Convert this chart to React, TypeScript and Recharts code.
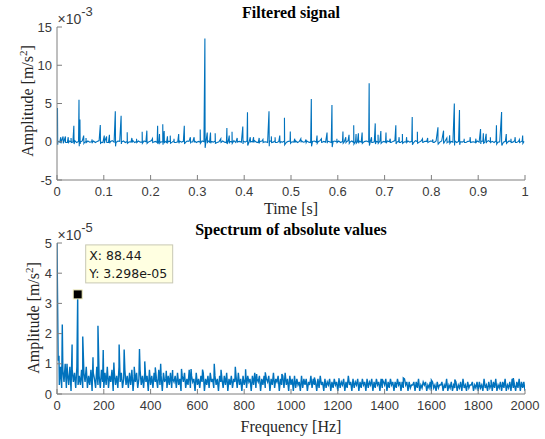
import React from 'react';
import { LineChart, Line, XAxis, YAxis, ReferenceDot } from 'recharts';

// ---------- Top plot: filtered signal (amplitude in 1e-3 m/s^2) ----------
const timeTicks = [0, 0.1, 0.2, 0.3, 0.4, 0.5, 0.6, 0.7, 0.8, 0.9, 1];
const timeTickLabels = ['0', '0.1', '0.2', '0.3', '0.4', '0.5', '0.6', '0.7', '0.8', '0.9', '1'];
const signalTicks = [-5, 0, 5, 10, 15];
const signalTickLabels = ['-5', '0', '5', '10', '15'];

// background noise of the filtered signal, samples every 4 ms starting at 2 ms (units 5e-5 m/s^2)
const baselineStart = 0.002;
const baselineStep = 0.004;
const baselineAmp = [
  2, -1, 3, -2, 1, -2, 2, 0, -1, 3, -2, 1, -1, 2, -3, 1, 2, -1, 0, 2, -2, 1, 3, -1, -2,
  1, 2, -2, 0, 3, -1, -2, 2, 1, -1, 2, -2, 1, 0, -1, 3, -2, 1, 2, -1, -1, 2, 0, -2, 1,
  3, -1, 1, -2, 2, 0, -1, 2, -2, 1, 1, -1, 3, -2, 0, 2, -1, 1, -2, 2, 1, -1, 0, 2, -2,
  1, -1, 2, 0, -2, 3, -1, 1, -1, 2, -2, 0, 1, 2, -1, -2, 2, 1, -1, 3, -2, 0, 1, -1, 2,
  -1, 2, -2, 1, 0, 3, -1, -2, 1, 2, -1, 0, -2, 2, 1, -1, 3, -2, 1, 0, -1, 2, -2, 1, 2,
  0, -1, 2, -2, 1, 3, -1, 0, 2, -1, -2, 1, 2, -1, 0, 3, -2, 1, -1, 2, 0, -2, 1, 2, -1,
  2, -2, 1, 0, -1, 3, -1, 2, -2, 1, 0, 2, -1, -2, 1, 2, -1, 3, -2, 0, 1, -1, 2, -2, 1,
  -1, 2, 0, -2, 1, 3, -1, 1, -2, 2, 0, -1, 2, -1, 1, -2, 3, 0, -1, 2, -2, 1, 1, -1, 2,
  1, -2, 2, 0, -1, 2, -2, 3, -1, 0, 1, -1, 2, -2, 1, 0, -1, 3, -2, 1, 2, -1, 0, -2, 2,
  -1, 1, 2, -2, 0, 3, -1, 1, -2, 2, -1, 0, 2, -1, 1, -2, 2, 0, -1, 3, -2, 1, -1, 2, 1,
];

// impulses: time [s], peak and following dip (units 1e-3 m/s^2)
const spikeTimes = [
  0.001, 0.008, 0.013, 0.018, 0.024, 0.030, 0.036, 0.047, 0.049, 0.057, 0.062, 0.075,
  0.0925, 0.101, 0.106, 0.112, 0.1246, 0.137, 0.150, 0.160, 0.170, 0.182, 0.192, 0.204,
  0.215, 0.219, 0.226, 0.229, 0.236, 0.242, 0.250, 0.260, 0.272, 0.285, 0.293, 0.306,
  0.316, 0.321, 0.328, 0.338, 0.350, 0.363, 0.368, 0.374, 0.385, 0.397, 0.407, 0.413,
  0.420, 0.432, 0.440, 0.453, 0.458, 0.466, 0.476, 0.486, 0.4985, 0.508, 0.521, 0.532,
  0.5434, 0.5556, 0.565, 0.577, 0.5875, 0.598, 0.611, 0.617, 0.624, 0.634, 0.639, 0.644,
  0.652, 0.667, 0.672, 0.680, 0.686, 0.692, 0.703, 0.712, 0.724, 0.731, 0.738, 0.747,
  0.759, 0.770, 0.781, 0.792, 0.803, 0.814, 0.826, 0.833, 0.839, 0.849, 0.860, 0.870,
  0.883, 0.895, 0.905, 0.911, 0.917, 0.926, 0.939, 0.950, 0.960, 0.970, 0.979, 0.988, 0.995,
];
const spikePeaks = [
  4.4, 0.6, 0.7, 0.7, 0.6, 0.5, 2.1, 5.5, 2.9, 0.8, 0.5, 0.3,
  2.2, 0.8, 0.7, 0.9, 4.0, 3.4, 1.25, 0.5, 0.4, 1.3, 1.45, 0.4,
  2.1, 1.0, 2.3, 1.4, 0.7, 0.8, 0.4, 1.0, 2.1, 0.6, 0.6, 1.6,
  13.5, 1.2, 1.2, 1.1, 0.4, 1.8, 0.8, 1.3, 0.5, 2.0, 3.85, 0.6,
  0.6, 0.5, 0.3, 4.0, 0.7, 0.6, 0.8, 3.15, 1.35, 0.4, 0.4, 0.3,
  5.6, 0.8, 0.4, 1.2, 4.8, 0.4, 1.35, 0.6, 0.9, 2.15, 1.0, 1.1,
  1.2, 7.65, 0.6, 2.4, 0.9, 1.4, 1.2, 0.4, 2.15, 0.6, 1.0, 0.6,
  3.25, 1.3, 0.4, 0.5, 0.3, 1.9, 1.45, 0.5, 0.85, 5.0, 4.15, 0.4,
  0.6, 0.4, 1.65, 1.1, 1.05, 0.6, 2.15, 3.9, 1.0, 0.4, 0.6, 0.3, 0.8,
];
const spikeDips = [
  -0.4, -0.2, -0.2, -0.1, -0.2, -0.1, -0.3, -0.6, -0.3, -0.2, -0.1, -0.1,
  -0.3, -0.2, -0.1, -0.2, -0.6, -0.3, -0.2, -0.1, -0.1, -0.2, -0.2, -0.1,
  -0.3, -0.2, -0.4, -0.2, -0.1, -0.2, -0.1, -0.2, -0.3, -0.1, -0.1, -0.2,
  -0.8, -0.2, -0.2, -0.2, -0.1, -0.3, -0.1, -0.2, -0.1, -0.3, -0.5, -0.1,
  -0.1, -0.1, -0.1, -0.6, -0.1, -0.1, -0.2, -0.4, -0.2, -0.1, -0.1, -0.1,
  -0.6, -0.2, -0.1, -0.2, -0.7, -0.1, -0.2, -0.1, -0.2, -0.3, -0.2, -0.2,
  -0.2, -0.5, -0.1, -0.3, -0.2, -0.2, -0.2, -0.1, -0.3, -0.1, -0.2, -0.1,
  -0.4, -0.2, -0.1, -0.1, -0.1, -0.3, -0.2, -0.1, -0.2, -0.5, -0.4, -0.1,
  -0.1, -0.1, -0.3, -0.2, -0.2, -0.1, -0.3, -0.5, -0.2, -0.1, -0.1, -0.1, -0.2,
];

// ---------- Bottom plot: spectrum (amplitude in 1e-6 m/s^2) ----------
const freqTicks = [0, 200, 400, 600, 800, 1000, 1200, 1400, 1600, 1800, 2000];
const freqTickLabels = ['0', '200', '400', '600', '800', '1000', '1200', '1400', '1600', '1800', '2000'];
const specTicks = [0, 1, 2, 3, 4, 5];
const specTickLabels = ['0', '1', '2', '3', '4', '5'];

const binStep = 5; // Hz
const spectrumBins = [
  50, 11, 3, 9, 2, 8, 4, 10, 2, 7, 3, 9, 1, 8, 4, 7, 2, 9, 3, 6,
  3, 8, 2, 7, 4, 9, 2, 6, 3, 8, 1, 7, 5, 2, 9, 3, 6, 2, 8, 4,
  2, 7, 3, 9, 2, 6, 4, 8, 1, 7, 3, 6, 2, 9, 4, 7, 2, 5, 8, 3,
  6, 2, 7, 3, 8, 1, 6, 4, 7, 2, 5, 8, 3, 6, 2, 7, 4, 6, 1, 8,
  3, 6, 2, 7, 4, 5, 2, 8, 3, 6, 1, 7, 4, 5, 2, 6, 3, 7, 2, 5,
  4, 6, 2, 7, 3, 5, 1, 6, 4, 7, 2, 5, 3, 8, 2, 6, 4, 5, 1, 7,
  3, 5, 2, 6, 4, 7, 1, 5, 3, 6, 2, 7, 4, 5, 2, 6, 3, 5, 1, 6,
  4, 5, 2, 6, 3, 7, 1, 5, 3, 6, 2, 5, 4, 6, 2, 7, 3, 5, 1, 6,
  3, 5, 2, 6, 4, 5, 1, 6, 3, 7, 2, 5, 4, 6, 1, 5, 3, 6, 2, 5,
  4, 6, 1, 5, 3, 7, 2, 5, 4, 6, 1, 5, 3, 6, 2, 7, 3, 5, 1, 6,
  3, 5, 1, 6, 2, 5, 3, 4, 1, 6, 2, 5, 3, 5, 1, 4, 3, 6, 2, 5,
  3, 4, 1, 5, 2, 6, 3, 4, 1, 5, 2, 4, 3, 5, 1, 4, 2, 5, 3, 4,
  1, 5, 2, 4, 3, 5, 1, 4, 2, 6, 3, 4, 1, 5, 2, 4, 3, 5, 1, 4,
  2, 5, 3, 4, 1, 5, 2, 4, 3, 5, 1, 4, 2, 5, 3, 4, 1, 5, 2, 4,
  3, 5, 1, 4, 2, 5, 3, 4, 1, 4, 2, 5, 3, 4, 1, 4, 2, 5, 3, 4,
  1, 4, 2, 3, 3, 4, 1, 4, 2, 5, 1, 3, 2, 4, 3, 4, 1, 3, 2, 4,
  1, 4, 2, 3, 1, 4, 2, 3, 3, 4, 1, 3, 2, 5, 1, 3, 2, 4, 1, 3,
  2, 4, 1, 3, 2, 4, 1, 5, 2, 3, 1, 4, 2, 3, 3, 4, 1, 3, 2, 4,
  1, 4, 2, 3, 1, 5, 2, 3, 1, 4, 2, 3, 1, 4, 2, 5, 1, 3, 2, 4,
  1, 4, 2, 5, 1, 3, 2, 4, 1, 5, 2, 3, 1, 4, 2, 5, 1, 4, 2, 4, 1,
];
const peakFreqs = [
  8.5, 22.6, 42.7, 64.5, 88.44, 110, 153.8, 175, 197.5, 243, 265.5, 287, 330, 352.5, 375,
  420, 443, 467, 494, 532, 573, 622, 672, 701, 762, 806, 853, 890, 961,
  1100, 1205, 1390, 1480, 1600, 1700, 1855, 1950,
];
const peakAmps = [
  12.7, 23, 10, 16.4, 32.98, 19, 12.2, 22.6, 14.6, 10.4, 16.4, 14.7, 9, 14.9, 10.8,
  8.8, 10, 7.7, 7.9, 8.3, 8.3, 8.1, 10, 8, 9, 8.2, 6.6, 7.2, 6.6,
  5.5, 5.2, 5.0, 5.3, 4.6, 4.8, 4.7, 5.3,
];
const tipFreq = 88.44;
const tipLabelY = '3.298e-05';
const tipAmp = 3.298e-5;

// ---------- assembled tables ----------
const signalData = [
  ...baselineAmp.map((v, i) => ({ t: baselineStart + baselineStep * i, a: v / 20 })),
  ...spikeTimes.flatMap((t, i) => [
    { t, a: spikePeaks[i] },
    { t: t + 0.0005, a: spikeDips[i] },
  ]),
].sort((p, q) => p.t - q.t);

const spectrumData = [
  ...spectrumBins.map((v, i) => ({ f: i * binStep, a: v / 10 })),
  ...peakFreqs.map((f, i) => ({ f, a: peakAmps[i] / 10 })),
].sort((p, q) => p.f - q.f);

// ---------- styling ----------
const BLUE = '#0072BD';
const FRAME = '#7f7f7f';
const TICKTXT = '#3a3a3a';
const SANS = '"Liberation Sans", Arial, Helvetica, sans-serif';
const SERIF = '"Liberation Serif", "Times New Roman", serif';
const TL = 5;
const TICK_FS = 13;

const makeLabel = (ticks: number[], labels: string[]) => (v: number) => {
  const i = ticks.findIndex((t) => Math.abs(t - v) < 1e-9);
  return i >= 0 ? labels[i] : String(v);
};

const BottomTick = (props: any) => {
  const { x, y, payload, fmt } = props;
  return (
    <g>
      <line x1={x} y1={y} x2={x} y2={y - TL} stroke={FRAME} />
      <text x={x} y={y + 15.5} textAnchor="middle" fontFamily={SANS} fontSize={TICK_FS} fill={TICKTXT}>
        {fmt(payload.value)}
      </text>
    </g>
  );
};
const LeftTick = (props: any) => {
  const { x, y, payload, fmt } = props;
  return (
    <g>
      <line x1={x} y1={y} x2={x + TL} y2={y} stroke={FRAME} />
      <text x={x - 5} y={y + 4.5} textAnchor="end" fontFamily={SANS} fontSize={TICK_FS} fill={TICKTXT}>
        {fmt(payload.value)}
      </text>
    </g>
  );
};
const TopTick = (props: any) => {
  const { x, y } = props;
  return <line x1={x} y1={y} x2={x} y2={y + TL} stroke={FRAME} />;
};
const RightTick = (props: any) => {
  const { x, y } = props;
  return <line x1={x} y1={y} x2={x - TL} y2={y} stroke={FRAME} />;
};

const TIPFONT = '"DejaVu Sans", Verdana, sans-serif';
const DataTip = (props: any) => {
  const { cx, cy } = props;
  if (cx == null || cy == null) return null;
  return (
    <g>
      <rect x={cx - 4.5} y={cy - 4.5} width={9} height={9} fill="#000" stroke="#f3f0c0" strokeWidth={1} />
      <rect x={cx + 8} y={cy - 49.5} width={87} height={38} fill="#ffffe1" stroke="#c8c8b4" strokeWidth={1} />
      <text x={cx + 11.5} y={cy - 34} fontFamily={TIPFONT} fontSize={12.5} fill="#1a1a1a">
        {`X: ${tipFreq}`}
      </text>
      <text x={cx + 11.5} y={cy - 16.5} fontFamily={TIPFONT} fontSize={12.5} fill="#1a1a1a">
        {`Y: ${tipLabelY}`}
      </text>
    </g>
  );
};

const W = 545;

export default function App() {
  const fmtTime = makeLabel(timeTicks, timeTickLabels);
  const fmtSig = makeLabel(signalTicks, signalTickLabels);
  const fmtFreq = makeLabel(freqTicks, freqTickLabels);
  const fmtSpec = makeLabel(specTicks, specTickLabels);
  return (
    <div style={{ position: 'absolute', left: 0, top: 0, width: W, height: 439, background: '#fff' }}>
      <div style={{ position: 'absolute', left: 0, top: 0 }}>
        <LineChart width={W} height={220} data={signalData} margin={{ top: 27, right: 20, bottom: 10, left: 7 }}>
          <XAxis dataKey="t" type="number" domain={[0, 1]} ticks={timeTicks} interval={0} height={30}
            allowDataOverflow axisLine={{ stroke: FRAME }} tickLine={false} tickSize={0} tickMargin={0}
            tick={<BottomTick fmt={fmtTime} />} />
          <XAxis xAxisId="top" orientation="top" dataKey="t" type="number" domain={[0, 1]} ticks={timeTicks}
            interval={0} height={0} allowDataOverflow axisLine={{ stroke: FRAME }} tickLine={false} tickSize={0}
            tickMargin={0} tick={<TopTick />} />
          <YAxis type="number" domain={[-5, 15]} ticks={signalTicks} interval={0} width={50} allowDataOverflow
            axisLine={{ stroke: FRAME }} tickLine={false} tickSize={0} tickMargin={0}
            tick={<LeftTick fmt={fmtSig} />} />
          <YAxis yAxisId="right" orientation="right" type="number" domain={[-5, 15]} ticks={signalTicks}
            interval={0} width={0} allowDataOverflow axisLine={{ stroke: FRAME }} tickLine={false} tickSize={0}
            tickMargin={0} tick={<RightTick />} />
          <Line dataKey="a" type="linear" stroke={BLUE} strokeWidth={1.1} dot={false} isAnimationActive={false} />
        </LineChart>
      </div>
      <div style={{ position: 'absolute', left: 0, top: 220 }}>
        <LineChart width={W} height={219} data={spectrumData} margin={{ top: 23, right: 20, bottom: 15, left: 7 }}>
          <XAxis dataKey="f" type="number" domain={[0, 2000]} ticks={freqTicks} interval={0} height={30}
            allowDataOverflow axisLine={{ stroke: FRAME }} tickLine={false} tickSize={0} tickMargin={0}
            tick={<BottomTick fmt={fmtFreq} />} />
          <XAxis xAxisId="top" orientation="top" dataKey="f" type="number" domain={[0, 2000]} ticks={freqTicks}
            interval={0} height={0} allowDataOverflow axisLine={{ stroke: FRAME }} tickLine={false} tickSize={0}
            tickMargin={0} tick={<TopTick />} />
          <YAxis type="number" domain={[0, 5]} ticks={specTicks} interval={0} width={50} allowDataOverflow
            axisLine={{ stroke: FRAME }} tickLine={false} tickSize={0} tickMargin={0}
            tick={<LeftTick fmt={fmtSpec} />} />
          <YAxis yAxisId="right" orientation="right" type="number" domain={[0, 5]} ticks={specTicks}
            interval={0} width={0} allowDataOverflow axisLine={{ stroke: FRAME }} tickLine={false} tickSize={0}
            tickMargin={0} tick={<RightTick />} />
          <Line dataKey="a" type="linear" stroke={BLUE} strokeWidth={1.4} dot={false} isAnimationActive={false} />
          <ReferenceDot x={tipFreq} y={tipAmp * 1e5} r={4} shape={<DataTip />} ifOverflow="visible" />
        </LineChart>
      </div>
      <svg width={W} height={439} style={{ position: 'absolute', left: 0, top: 0, pointerEvents: 'none' }}>
        <text x={291} y={18} textAnchor="middle" fontFamily={SERIF} fontWeight="bold" fontSize={16} fill="#000">
          Filtered signal
        </text>
        <text x={57.5} y={23.5} fontFamily={SANS} fontSize={14} fill={TICKTXT}>
          {'\u00D710'}
          <tspan dy={-8} fontSize={13}>-3</tspan>
        </text>
        <text x={291} y={214} textAnchor="middle" fontFamily={SERIF} fontSize={16} fill="#262626">
          Time [s]
        </text>
        <text x={32.5} y={101} textAnchor="middle" transform="rotate(-90 32.5 101)" fontFamily={SERIF}
          fontSize={16} fill="#262626">
          Amplitude [m/s<tspan dy={-6} fontSize={11}>2</tspan><tspan dy={6}>]</tspan>
        </text>

        <text x={291} y={235} textAnchor="middle" fontFamily={SERIF} fontWeight="bold" fontSize={16} fill="#000">
          Spectrum of absolute values
        </text>
        <text x={57.5} y={239.5} fontFamily={SANS} fontSize={14} fill={TICKTXT}>
          {'\u00D710'}
          <tspan dy={-8} fontSize={13}>-5</tspan>
        </text>
        <text x={291} y={432} textAnchor="middle" fontFamily={SERIF} fontSize={16} fill="#262626">
          Frequency [Hz]
        </text>
        <text x={39} y={318} textAnchor="middle" transform="rotate(-90 39 318)" fontFamily={SERIF}
          fontSize={16} fill="#262626">
          Amplitude [m/s<tspan dy={-6} fontSize={11}>2</tspan><tspan dy={6}>]</tspan>
        </text>
      </svg>
    </div>
  );
}
